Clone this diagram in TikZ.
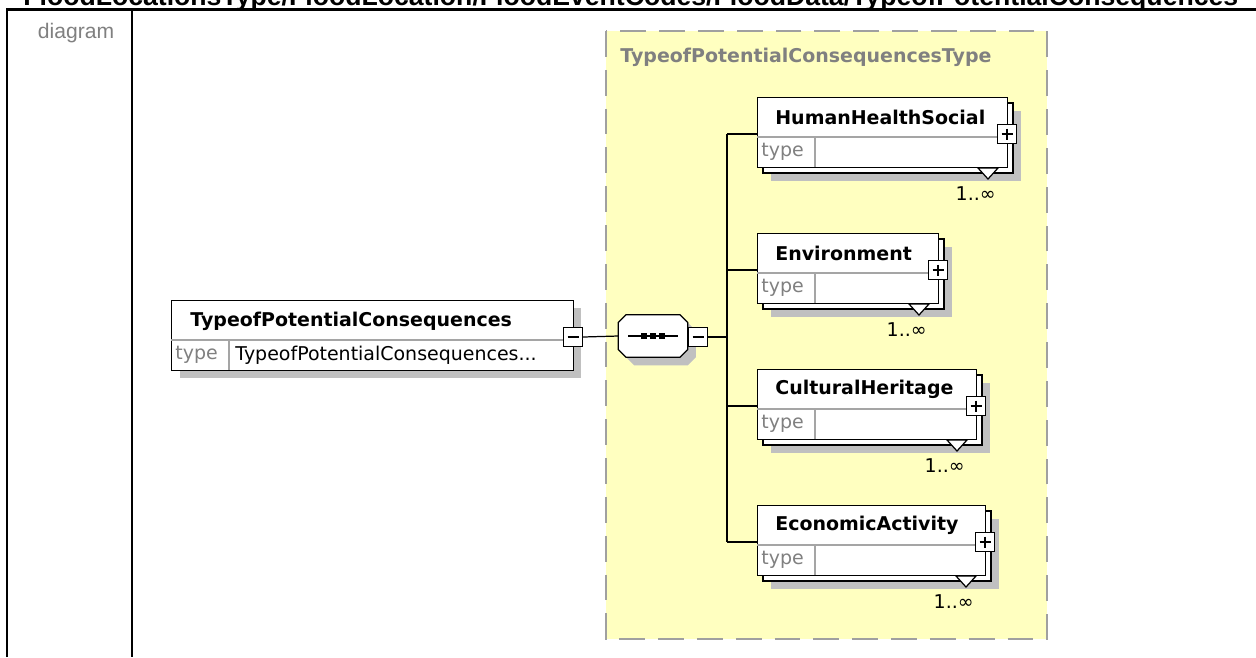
\documentclass[tikz,border=0pt]{standalone}
\usepackage{fontspec}
\setmainfont{DejaVu Sans}
\newfontfamily\arialfont{Liberation Sans}
\definecolor{panelyellow}{RGB}{255,255,192}
\definecolor{shadowgray}{RGB}{192,192,192}
\definecolor{dashgray}{RGB}{160,160,160}
\definecolor{cellgray}{RGB}{165,165,165}
\definecolor{textgray}{RGB}{128,128,128}
\newcommand\boxfont{\fontsize{10.8}{13}\selectfont}
% octagon round a named node, corners cut by #2
\newcommand\octopath[2]{([xshift=#2]#1.north west) -- ([xshift=-#2]#1.north east) -- ([yshift=-#2]#1.north east)
  -- ([yshift=#2]#1.south east) -- ([xshift=-#2]#1.south east) -- ([xshift=#2]#1.south west)
  -- ([yshift=#2]#1.south west) -- ([yshift=-#2]#1.north west) -- cycle}

\begin{document}
\begin{tikzpicture}[x=0.02cm, y=-0.02cm,
  boxline/.style={draw=black, line width=0.7pt},
  elembox/.style={boxline, fill=white, rectangle, anchor=north west, minimum height=1.4cm, inner sep=0pt},
  cellline/.style={draw=cellgray, line width=0.6pt},
  conn/.style={draw=black, line width=0.7pt},
  elemname/.style={font=\boxfont\bfseries, anchor=west, inner sep=0pt},
  typetext/.style={font=\boxfont, text=textgray, anchor=west, inner sep=0pt},
  togminus/.style={boxline, fill=white, minimum size=0.38cm, inner sep=0pt,
    path picture={\draw[line width=0.7pt] ([xshift=0.08cm]path picture bounding box.west) -- ([xshift=-0.08cm]path picture bounding box.east);}},
  togplus/.style={boxline, fill=white, minimum size=0.38cm, inner sep=0pt,
    path picture={\draw[line width=0.7pt] ([xshift=0.08cm]path picture bounding box.west) -- ([xshift=-0.08cm]path picture bounding box.east)
      ([yshift=-0.08cm]path picture bounding box.north) -- ([yshift=0.08cm]path picture bounding box.south);}},
  seqshape/.style={rectangle, minimum width=1.38cm, minimum height=0.84cm, inner sep=0pt}]
  \useasboundingbox (0,0) rectangle (1256,657);
  \clip (0,0) rectangle (1256,657);

  % table frame
  \node[anchor=base west, inner sep=0pt] (title) at (23,5)
    {\resizebox{24.3cm}{!}{\arialfont\bfseries FloodLocationsType/FloodLocation/FloodEventCodes/FloodData/TypeofPotentialConsequences}};
  \draw[line width=1.4pt] (7,657) -- (7,9.5) -- (1256,9.5);
  \draw[line width=1.2pt] (132,9.5) -- (132,657);
  \node[font=\arialfont\fontsize{12}{14}\selectfont, text=textgray] (cellname) at (76,33) {diagram};

  % complex type panel
  \draw[draw=dashgray, line width=1.1pt, dash pattern=on 14.7pt off 7.4pt, fill=panelyellow] (606,31) rectangle (1047,639);
  \node[font=\boxfont\bfseries, text=textgray, anchor=west, inner sep=0pt] (typename) at (620,57) {TypeofPotentialConsequencesType};

  % root element
  \fill[shadowgray] (180,308) rectangle (581,378);
  \node[elembox, minimum width=8.04cm] (elem) at (171,300) {};
  \draw[cellline] (171,340) -- (573,340) (229,340) -- (229,370);
  \node[elemname] (elemname) at (190,321) {TypeofPotentialConsequences};
  \node[typetext] (elemtype) at (175,355) {type};
  \node[font=\boxfont, anchor=west, inner sep=0pt] (elemvalue) at (235,355) {TypeofPotentialConsequences...};
  \node[togminus] (elemtog) at (573,337) {};

  % sequence compositor
  \node[seqshape] (seqshadow) at (661,344) {};
  \node[seqshape] (seq) at (653,336) {};
  \fill[shadowgray] \octopath{seqshadow}{0.16cm};
  \draw[boxline, fill=white] \octopath{seq}{0.16cm};
  \draw[line width=0.8pt] ([xshift=-0.5cm]seq.center) -- ([xshift=0.5cm]seq.center);
  \foreach \dx in {-9,0,9}
    \fill ([xshift=\dx*0.02cm]seq.center) +(-2.8,-2.8) rectangle +(2.8,2.8);
  \node[togminus] (seqtog) at (698,337) {};
  \coordinate (trunk) at (727,337);
  \draw[conn] (elemtog.east) -- (seq.west);
  \draw[conn] (seqtog.east) -- (trunk);

  % child elements
  \foreach \nm/\t/\w [count=\i] in {HumanHealthSocial/97/250, Environment/233/181,
      CulturalHeritage/369/219, EconomicActivity/505/228} {
    \pgfmathsetmacro{\r}{757+\w}
    \fill[shadowgray] (771,\t+14) rectangle (\r+14,\t+84);
    \draw[boxline, fill=white] (763,\t+6) rectangle (\r+6,\t+76);
    \node[elembox, minimum width=\w*0.02cm] (c\i) at (757,\t) {};
    \draw[cellline] (757,\t+40) -- (\r,\t+40) (815,\t+40) -- (815,\t+70);
    \node[elemname] (c\i-name) at (775,\t+20) {\nm};
    \node[typetext] (c\i-type) at (761,\t+55) {type};
    \draw[boxline, fill=white] (\r-29,\t+71) -- (\r-9,\t+71) -- (\r-19,\t+82) -- cycle;
    \node[togplus] (c\i-tog) at (\r,\t+37) {};
    \node[font=\boxfont, anchor=east, inner sep=0pt] (c\i-mult) at (\r-11,\t+97) {1..∞};
    \draw[conn] (trunk |- c\i-tog) -- (c\i.west |- c\i-tog);
  }
  \draw[conn] (trunk |- c1-tog) -- (trunk |- c4-tog);
\end{tikzpicture}
\end{document}
